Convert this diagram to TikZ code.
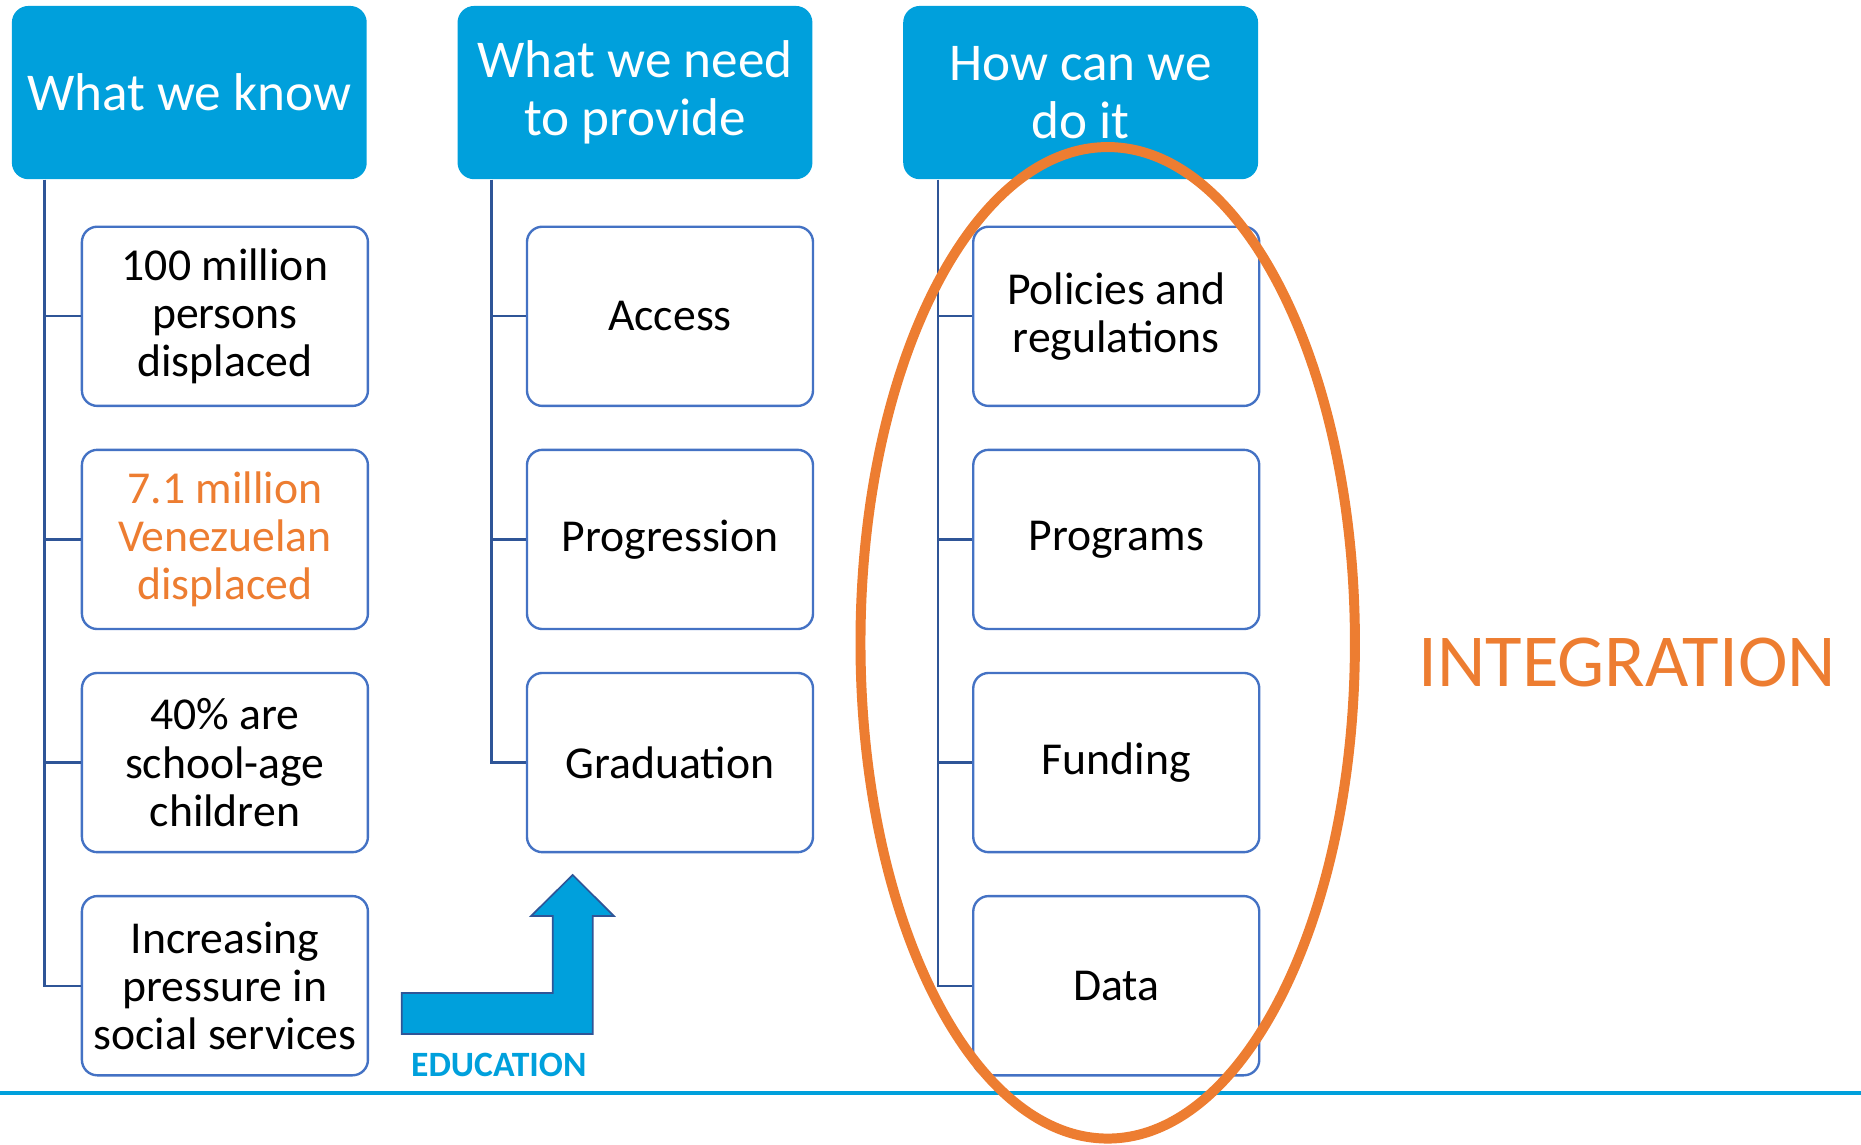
\documentclass[tikz,border=0pt]{standalone}
\usepackage{fontspec}
\setmainfont{Carlito}
\definecolor{headblue}{RGB}{0,160,220}
\definecolor{boxblue}{RGB}{68,114,196}
\definecolor{linkblue}{RGB}{47,85,151}
\definecolor{accent}{RGB}{237,125,49}
\begin{document}
\begin{tikzpicture}[x=0.5pt,y=-0.5pt,
  header/.style={rectangle, rounded corners=7pt, fill=headblue, draw=none,
    minimum width=149.5pt, minimum height=73pt, inner sep=0pt, align=center,
    text=white, font=\fontsize{22.4pt}{24.25pt}\selectfont},
  item/.style={rectangle, rounded corners=6.5pt, fill=white, draw=boxblue, line width=1pt,
    minimum width=120.5pt, minimum height=75.5pt, inner sep=0pt, align=center,
    font=\fontsize{19.25pt}{20.25pt}\selectfont},
  link/.style={draw=linkblue, line width=1pt},
  bigarrow/.style={fill=headblue, draw=linkblue, line width=0.7pt, line join=miter}]
\useasboundingbox (0,0) rectangle (1568,964);

% column headers
\node[header] (h1) at (159.5,78) {What we know};
\node[header] (h2) at (535,78) {What we need\\to provide};
\node[header] (h3) at (910.5,78) {How can we\\do it};

% first column
\node[item] (a1) at (189.5,266.5) {100 million\\persons\\displaced};
\node[item, text=accent] (a2) at (189.5,454.5) {7.1 million\\Venezuelan\\displaced};
\node[item] (a3) at (189.5,642.5) {40\% are\\school-age\\children};
\node[item] (a4) at (189.5,830.5) {Increasing\\pressure in\\social services};

% second column
\node[item] (b1) at (564.5,266.5) {Access};
\node[item] (b2) at (564.5,454.5) {Progression};
\node[item] (b3) at (564.5,642.5) {Graduation};

% third column
\node[item] (c1) at (940.5,266.5) {Policies and\\regulations};
\node[item] (c2) at (940.5,454.5) {Programs};
\node[item] (c3) at (940.5,642.5) {Funding};
\node[item] (c4) at (940.5,830.5) {Data};

% tree connectors
\coordinate (t1) at ([xshift=14pt]h1.south west);
\coordinate (t2) at ([xshift=14.5pt]h2.south west);
\coordinate (t3) at ([xshift=14.75pt]h3.south west);
\draw[link] (t1) |- (a4.west);
\draw[link] (t1 |- a1.west) -- (a1.west);
\draw[link] (t1 |- a2.west) -- (a2.west);
\draw[link] (t1 |- a3.west) -- (a3.west);
\draw[link] (t2) |- (b3.west);
\draw[link] (t2 |- b1.west) -- (b1.west);
\draw[link] (t2 |- b2.west) -- (b2.west);
\draw[link] (t3) |- (c4.west);
\draw[link] (t3 |- c1.west) -- (c1.west);
\draw[link] (t3 |- c2.west) -- (c2.west);
\draw[link] (t3 |- c3.west) -- (c3.west);

% bent arrow
\draw[bigarrow] (338.5,836.6) -- (465.7,836.6) -- (465.7,771.8) -- (447.4,771.8)
  -- (482.5,737.2) -- (517.3,771.8) -- (499.4,771.8) -- (499.4,871.2)
  -- (338.5,871.2) -- cycle;
\node[anchor=base, text=headblue, inner sep=0pt,
  font=\fontsize{15pt}{16pt}\selectfont\bfseries] (edu) at (420.3,907) {EDUCATION};

% base rule
\coordinate (r0) at (0,921);
\coordinate (r1) at (1568,921);
\draw[draw=headblue, line width=1.55pt] (r0) -- (r1);

% outline around third column
\draw[draw=accent, line width=4.2pt] (933.3,541.6) ellipse [x radius=104.15pt, y radius=208.85pt];

\node[anchor=base, text=accent, inner sep=0pt,
  font=\fontsize{31.5pt}{34pt}\selectfont] (integ) at (1371,578) {INTEGRATION};
\end{tikzpicture}
\end{document}
